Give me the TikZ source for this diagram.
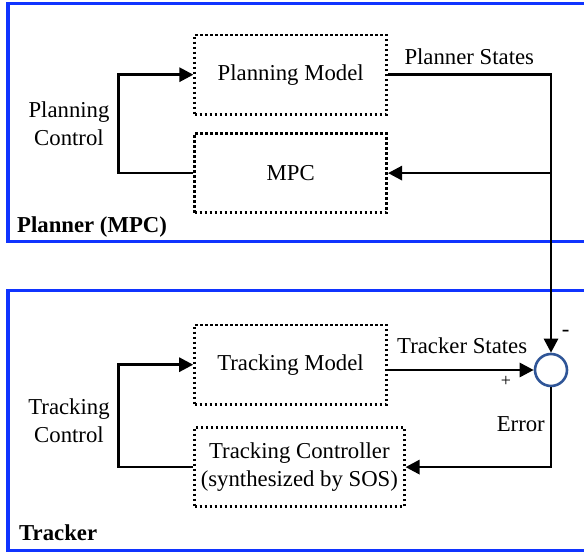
\documentclass[tikz,border=0pt]{standalone}
\usepackage{fontspec}
\setmainfont{Liberation Serif}
\usetikzlibrary{positioning,calc,arrows.meta}
\definecolor{framebl}{RGB}{16,52,255}
\definecolor{sumbl}{RGB}{47,85,151}
\newcommand{\diagfont}{\fontsize{22.75}{27.5}\selectfont}

\begin{document}
\begin{tikzpicture}
   [x=1pt,y=1pt,font=\diagfont,
    frame/.style={draw=framebl,line width=3.2pt},
    block/.style={rectangle,draw,line width=2.6pt,dash pattern=on 2.6pt off 2.4pt,
	 minimum width=192pt,minimum height=79.3pt,inner sep=0pt,align=center},
    flow/.style={line width=2.8pt,-{Triangle[length=14pt,width=14pt]}},
    sumnode/.style={circle,draw=sumbl,line width=2.6pt,minimum size=32pt,inner sep=0pt},
    tag/.style={inner sep=0pt,align=center},
    boxtitle/.style={inner sep=0pt,anchor=base west,font=\diagfont\bfseries}]
\useasboundingbox (0,0) rectangle (584,554);
\draw [frame] (8,312.3) rectangle (600,550.7);
\draw [frame] (8,3.5) rectangle (600,263.3);
\node [block] (pm) at (290.7,479.3) {Planning Model};
\node [block,below=16.5pt of pm] (mpc) {MPC};
\node [block] (tm) at (290.5,189.3) {Tracking Model};
\node [block,minimum width=209.7pt,below right=20.5pt and 0pt of tm.south west] (tc) {Tracking Controller\\
		(synthesized by SOS)};
\node [sumnode] (sum) at (551,184) {};
\draw [flow] (mpc.west) -- ++(-75pt,0) |- (pm.west);
\draw [flow] (pm.east) -| (sum.north);
\coordinate (tap) at (sum.north |- mpc.east);
\draw [flow] (tap) -- (mpc.east);
\draw [flow] (tm.east |- sum.west) -- (sum.west);
\draw [flow] (sum.south) |- (tc.east);
\draw [flow] (tc.west) -- ++(-75pt,0) |- (tm.west);
\node [tag] (pctl) at (69,430.5) {Planning\\Control};
\node [tag] (tctl) at (69,133.2) {Tracking\\Control};
\node [tag,anchor=base west] (pstates) at (404.3,489) {Planner States};
\node [tag,anchor=base west] (tstates) at (397,200.7) {Tracker States};
\node [tag,anchor=base east] (err) at (545,122.5) {Error};
\node [tag] (minus) at (565.7,221) {-};
\node [tag,font=\fontsize{18}{20}\selectfont] (plus) at (506,172.3) {+};
\node [boxtitle] (ptitle) at (17,321) {Planner (MPC)};
\node [boxtitle] (ttitle) at (19,13) {Tracker};
\end{tikzpicture}
\end{document}
